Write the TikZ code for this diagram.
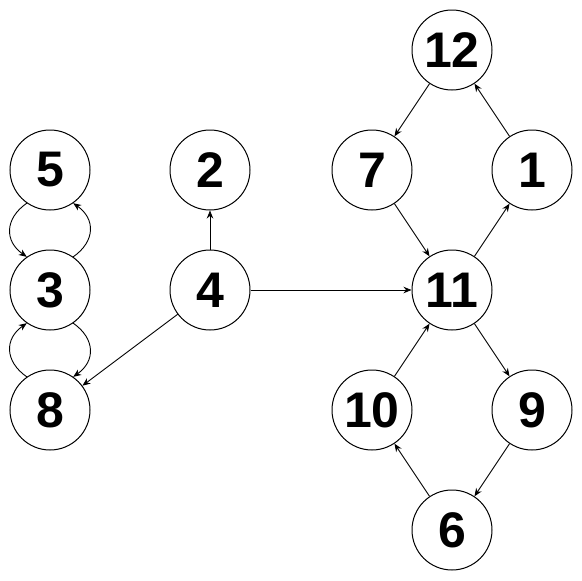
\documentclass[tikz,border=0pt]{standalone}
\usepackage{fontspec}
\setmainfont{Liberation Sans}
\usetikzlibrary{arrows.meta}
\begin{document}
\begin{tikzpicture}[x=1pt,y=-1pt,
  vtx/.style={circle,draw,line width=1pt,minimum size=80pt,inner sep=0pt,
    font=\bfseries\fontsize{50}{50}\selectfont},
  edge/.style={line width=0.9pt,-{Stealth[length=8pt,width=6.5pt]}}]
\useasboundingbox (0,0) rectangle (582,581);
\node[vtx] (n12) at (452,50) {12};
\node[vtx] (n5) at (50,170) {5};
\node[vtx] (n2) at (210,170) {2};
\node[vtx] (n7) at (372,170) {7};
\node[vtx] (n1) at (532,170) {1};
\node[vtx] (n3) at (50,290) {3};
\node[vtx] (n4) at (210,290) {4};
\node[vtx] (n11) at (452,290) {11};
\node[vtx] (n8) at (50,410) {8};
\node[vtx] (n10) at (372,410) {10};
\node[vtx] (n9) at (532,410) {9};
\node[vtx] (n6) at (452,530) {6};
\draw[edge] (n12) -- (n7);
\draw[edge] (n1) -- (n12);
\draw[edge] (n7) -- (n11);
\draw[edge] (n11) -- (n1);
\draw[edge] (n4) -- (n2);
\draw[edge] (n4) -- (n11);
\draw[edge] (n4) -- (n8);
\draw[edge] (n11) -- (n9);
\draw[edge] (n10) -- (n11);
\draw[edge] (n9) -- (n6);
\draw[edge] (n6) -- (n10);
\draw[edge] (n5.235) to[out=215,in=145,looseness=1.3] (n3.125);
\draw[edge] (n3.55) to[out=35,in=-35,looseness=1.3] (n5.305);
\draw[edge] (n8.125) to[out=145,in=215,looseness=1.3] (n3.235);
\draw[edge] (n3.305) to[out=-35,in=35,looseness=1.3] (n8.55);
\end{tikzpicture}
\end{document}
